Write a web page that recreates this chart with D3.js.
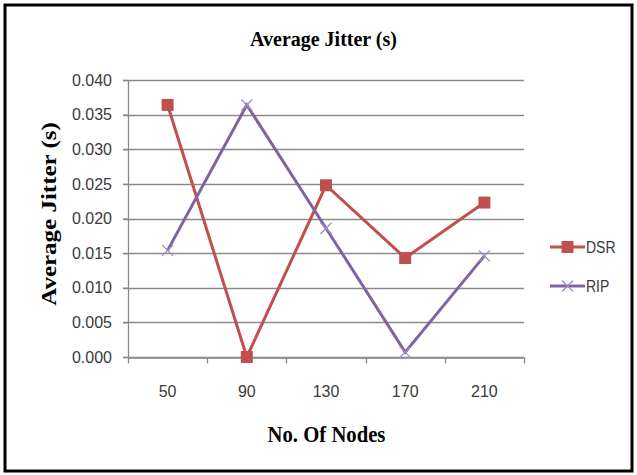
<!DOCTYPE html>
<html>
<head>
<meta charset="utf-8">
<script src="https://cdn.jsdelivr.net/npm/d3@7"></script>
<style>
  body { margin: 0; background: #fff; }
</style>
</head>
<body>
<div id="container"></div>
<script>
/* chart data */
const nodes = ["50", "90", "130", "170", "210"]
const dsrJitter = [0.0364, 0.0000, 0.0248, 0.0143, 0.0223]
const ripJitter = [0.0154, 0.0364, 0.0186, 0.0007, 0.0146]
const yTicks = [0, 0.005, 0.010, 0.015, 0.020, 0.025, 0.030, 0.035, 0.040]

const width = 637
const height = 475
const plot = {left: 128, right: 524, top: 80, bottom: 357}
const DSRCOLOR = "#C0504D"
const RIPCOLOR = "#8064A2"
const GRIDCOLOR = "#8a8a8a"
const SANS = "Liberation Sans, Arial, sans-serif"
const SERIF = "Liberation Serif, Times New Roman, serif"

const svg = d3.select("#container")
              .append("svg")
              .attr("width", width)
              .attr("height", height)

/* outer frame */
svg.append("rect")
   .attr("x", 5).attr("y", 5)
   .attr("width", 627).attr("height", 466)
   .attr("fill", "none")
   .attr("stroke", "#000")
   .attr("stroke-width", 3)

const x = d3.scaleBand()
            .domain(nodes)
            .range([plot.left, plot.right])
const y = d3.scaleLinear()
            .domain([0, 0.04])
            .range([plot.bottom, plot.top])

/* horizontal gridlines */
svg.append("g")
   .selectAll("line")
   .data(yTicks)
   .enter()
   .append("line")
   .attr("x1", plot.left - 5)
   .attr("x2", plot.right)
   .attr("y1", d => Math.round(y(d)) + 0.5)
   .attr("y2", d => Math.round(y(d)) + 0.5)
   .attr("stroke", GRIDCOLOR)
   .attr("stroke-width", 1.3)

/* y axis */
const yAxis = d3.axisLeft(y)
                .tickValues(yTicks)
                .tickFormat(d3.format(".3f"))
                .tickSize(5)
                .tickPadding(11)
svg.append("g")
   .attr("transform", "translate(" + plot.left + ",0)")
   .call(yAxis)
   .call(g => g.selectAll("line, path").attr("stroke", GRIDCOLOR).attr("stroke-width", 1.3))
   .call(g => g.select(".domain").attr("d", "M0.5," + plot.top + "V" + (plot.bottom + 0.5)))
   .call(g => g.selectAll("text")
               .attr("fill", "#3a3a3a")
               .attr("font-family", SANS)
               .attr("font-size", "16px"))

/* x axis */
const xAxis = d3.axisBottom(x).tickSize(0).tickPadding(0)
const xg = svg.append("g")
   .attr("transform", "translate(0," + (plot.bottom + 0.5) + ")")
   .call(xAxis)
xg.select(".domain").attr("stroke", GRIDCOLOR).attr("stroke-width", 1.3)
xg.selectAll("text")
  .attr("y", 39.5)
  .attr("dy", 0)
  .attr("fill", "#3a3a3a")
  .attr("font-family", SANS)
  .attr("font-size", "16px")
xg.selectAll(".boundary")
  .data(nodes.concat(["end"]))
  .enter()
  .append("line")
  .attr("class", "boundary")
  .attr("x1", (d, i) => Math.round(plot.left + i * x.step()) + 0.5)
  .attr("x2", (d, i) => Math.round(plot.left + i * x.step()) + 0.5)
  .attr("y1", 0)
  .attr("y2", 6)
  .attr("stroke", GRIDCOLOR)
  .attr("stroke-width", 1.3)

const cx = (d, i) => x(nodes[i]) + x.bandwidth() / 2
const line = d3.line().x(cx).y(d => y(d))

/* series lines */
svg.append("path")
   .datum(dsrJitter)
   .attr("d", line)
   .attr("fill", "none")
   .attr("stroke", DSRCOLOR)
   .attr("stroke-width", 3)
svg.append("path")
   .datum(ripJitter)
   .attr("d", line)
   .attr("fill", "none")
   .attr("stroke", RIPCOLOR)
   .attr("stroke-width", 3)

/* markers */
const squareMark = (g, size) => g.append("rect")
  .attr("x", -size / 2).attr("y", -size / 2)
  .attr("width", size).attr("height", size)
  .attr("fill", DSRCOLOR)
const crossMark = (g, size) => g.append("path")
  .attr("d", "M" + (-size / 2) + "," + (-size / 2) + "L" + (size / 2) + "," + (size / 2) +
             "M" + (-size / 2) + "," + (size / 2) + "L" + (size / 2) + "," + (-size / 2))
  .attr("stroke", "#9F8CC0")
  .attr("stroke-width", 1.3)
  .attr("fill", "none")

svg.selectAll(".dsr")
   .data(dsrJitter)
   .enter()
   .append("g")
   .attr("class", "dsr")
   .attr("transform", (d, i) => "translate(" + cx(d, i) + "," + y(d) + ")")
   .each(function() { squareMark(d3.select(this), 12) })
svg.selectAll(".rip")
   .data(ripJitter)
   .enter()
   .append("g")
   .attr("class", "rip")
   .attr("transform", (d, i) => "translate(" + cx(d, i) + "," + y(d) + ")")
   .each(function() { crossMark(d3.select(this), 11) })

/* legend */
const legend = [{name: "DSR", color: DSRCOLOR, mark: squareMark, size: 12},
                {name: "RIP", color: RIPCOLOR, mark: crossMark, size: 11}]
const lg = svg.selectAll(".legend")
   .data(legend)
   .enter()
   .append("g")
   .attr("class", "legend")
   .attr("transform", (d, i) => "translate(550," + (247 + i * 39) + ")")
lg.append("line")
  .attr("x1", 0).attr("x2", 35)
  .attr("stroke", d => d.color)
  .attr("stroke-width", 3)
lg.each(function(d) {
  const m = d3.select(this).append("g").attr("transform", "translate(17.5,0)")
  d.mark(m, d.size)
})
lg.append("text")
  .attr("transform", "translate(36,6) scale(0.85,1)")
  .text(d => d.name)
  .attr("fill", "#3a3a3a")
  .attr("font-family", SANS)
  .attr("font-size", "16.5px")

/* titles */
svg.append("text")
   .attr("transform", "translate(323.5,45.5) scale(0.93,1)")
   .attr("text-anchor", "middle")
   .attr("font-family", SERIF)
   .attr("font-weight", "bold")
   .attr("font-size", "21.5px")
   .text("Average Jitter (s)")
svg.append("text")
   .attr("transform", "translate(326.5,442) scale(0.9,1)")
   .attr("text-anchor", "middle")
   .attr("font-family", SERIF)
   .attr("font-weight", "bold")
   .attr("font-size", "23px")
   .text("No. Of Nodes")
svg.append("text")
   .attr("transform", "translate(56,214) rotate(-90) scale(1,0.8)")
   .attr("text-anchor", "middle")
   .attr("font-family", SERIF)
   .attr("font-weight", "bold")
   .attr("font-size", "25px")
   .text("Average Jitter (s)")
</script>
</body>
</html>
